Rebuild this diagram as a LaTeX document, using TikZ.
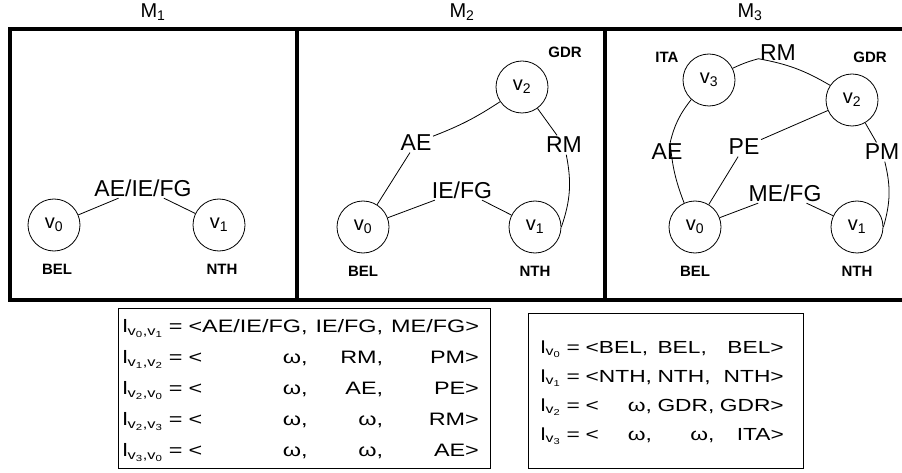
\documentclass[tikz,border=0pt]{standalone}
\usepackage{fontspec}
\setmainfont{Liberation Sans}
\newfontfamily\tabfont[FakeStretch=1.3]{Liberation Sans}
\usepackage{tikz}
\usetikzlibrary{positioning}
\tikzset{
  panel/.style   = {draw=black, line width=3.5pt},
  vert/.style    = {circle, draw=black, line width=0.8pt,
                    minimum size=52pt, inner sep=0pt,
                    font=\fontsize{20}{22}\selectfont},
  elabel/.style  = {inner sep=1.5pt, font=\fontsize{23}{26}\selectfont},
  country/.style = {inner sep=1pt, font=\fontsize{15}{17}\selectfont\bfseries},
  mtitle/.style  = {inner sep=1pt, font=\fontsize{20}{22}\selectfont},
  edge/.style    = {draw=black, line width=0.8pt},
  tbl/.style     = {draw=black, line width=1pt, anchor=north west,
                    inner xsep=10pt, inner ysep=0pt, align=left,
                    font=\tabfont\fontsize{18}{31}\selectfont},
}
\newcommand{\vx}[1]{v\textsubscript{#1}}

\begin{document}
\begin{tikzpicture}[x=1pt, y=-1pt]
  \useasboundingbox (0,0) rectangle (902,473);

  % Frames and titles
  \draw[panel] (10,29)  rectangle (297,300);
  \draw[panel] (297,29) rectangle (605,300);
  \draw[panel] (605,29) rectangle (912,300);
  \node[mtitle] (t1) at (153,12) {M\textsubscript{1}};
  \node[mtitle] (t2) at (462,12) {M\textsubscript{2}};
  \node[mtitle] (t3) at (750,12) {M\textsubscript{3}};

  % Panel M1
  \node[vert] (a0) at (54,225)  {\vx{0}};
  \node[vert] (a1) at (219,225) {\vx{1}};
  \node[country, below=12pt of a0, xshift=3pt] (aBEL) {BEL};
  \node[country, below=12pt of a1, xshift=3pt] (aNTH) {NTH};
  \node[elabel] (a01) at (143,188) {AE/IE/FG};
  \draw[edge] (a0) -- (a01) -- (a1);

  % Panel M2
  \node[vert] (b0) at (363,227) {\vx{0}};
  \node[vert] (b1) at (535,227) {\vx{1}};
  \node[vert] (b2) at (522,87)  {\vx{2}};
  \node[country, below=12pt of b0] (bBEL) {BEL};
  \node[country, below=12pt of b1] (bNTH) {NTH};
  \node[country] (bGDR) at (565,52) {GDR};
  \node[elabel] (b02) at (416,143) {AE};
  \node[elabel] (b12) at (564,145) {RM};
  \node[elabel] (b01) at (462,190) {IE/FG};
  \draw[edge] (b0) -- (b02) to[bend right=6] (b2);
  \draw[edge] (b2) -- (b12) to[bend left=15] (b1.east);
  \draw[edge] (b0) -- (b01) -- (b1);

  % Panel M3
  \node[vert] (c0) at (695,227) {\vx{0}};
  \node[vert] (c1) at (857,227) {\vx{1}};
  \node[vert] (c2) at (852,100) {\vx{2}};
  \node[vert] (c3) at (709,80)  {\vx{3}};
  \node[country, below=12pt of c0] (cBEL) {BEL};
  \node[country, below=12pt of c1] (cNTH) {NTH};
  \node[country] (cGDR) at (870,57) {GDR};
  \node[country] (cITA) at (667,57) {ITA};
  \node[elabel] (c23) at (778,53)  {RM};
  \node[elabel] (c30) at (667,152) {AE};
  \node[elabel] (c20) at (744,147) {PE};
  \node[elabel] (c12) at (882,152) {PM};
  \node[elabel] (c01) at (785,193) {ME/FG};
  \draw[edge] (c3) to[bend left=5] (c23) to[bend left=10] (c2);
  \draw[edge] (c3) to[bend right=12] (c30) to[bend right=8] (c0);
  \draw[edge] (c2) -- (c20) -- (c0);
  \draw[edge] (c2) -- (c12) to[bend left=15] (c1.east);
  \draw[edge] (c0) -- (c01) -- (c1);

  % Label tables
  \node[tbl, inner xsep=4pt, text width=364pt, minimum height=160pt]
        (etab) at (118,308) {%
    \begin{tabular}{@{}l@{}r@{\hspace{8pt}}r@{\hspace{8pt}}r@{}}
      l\textsubscript{\vx{0},\vx{1}} = < & AE/IE/FG, & IE/FG, & ME/FG>\\
      l\textsubscript{\vx{1},\vx{2}} = < & ω, & RM, & PM>\\
      l\textsubscript{\vx{2},\vx{0}} = < & ω, & AE, & PE>\\
      l\textsubscript{\vx{2},\vx{3}} = < & ω, & ω, & RM>\\
      l\textsubscript{\vx{3},\vx{0}} = < & ω, & ω, & AE>
    \end{tabular}};
  \node[tbl, inner xsep=12pt, text width=251pt, minimum height=155pt,
        font=\tabfont\fontsize{17.5}{29}\selectfont] (vtab) at (528,313) {%
    \begin{tabular}{@{}l@{}l@{\hspace{5.5pt}}l@{\hspace{5.5pt}}r@{}}
      l\textsubscript{\vx{0}} = < & BEL, & BEL, & BEL>\\
      l\textsubscript{\vx{1}} = < & NTH, & NTH, & NTH>\\
      l\textsubscript{\vx{2}} = < & \hfill ω, & GDR, & GDR>\\
      l\textsubscript{\vx{3}} = < & \hfill ω, & \hfill ω, & ITA>
    \end{tabular}};
\end{tikzpicture}
\end{document}
